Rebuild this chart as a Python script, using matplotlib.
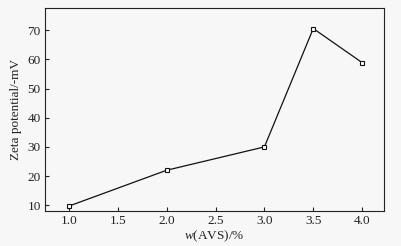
import matplotlib
matplotlib.use("Agg")
import matplotlib.pyplot as plt

x_vals = [1.0, 2.0, 3.0, 3.5, 4.0]
zeta = [9.7, 22.0, 30.0, 70.6, 58.9]
x_ticks = [1.0, 1.5, 2.0, 2.5, 3.0, 3.5, 4.0]
y_ticks = [10, 20, 30, 40, 50, 60, 70]

plt.rcParams['font.family'] = ['Liberation Serif', 'DejaVu Serif']
plt.rcParams['mathtext.fontset'] = 'custom'
plt.rcParams['mathtext.rm'] = 'Liberation Serif'
plt.rcParams['mathtext.it'] = 'Liberation Serif:italic'

fig = plt.figure(figsize=(4.01, 2.46), dpi=100, facecolor='#f7f7f7')
ax = fig.add_axes([0.112, 0.142, 0.846, 0.825])
ax.set_facecolor('#f7f7f7')
ax.plot(x_vals, zeta, color='#111111', lw=0.9, marker='s', ms=3.5,
        mfc='white', mec='#111111', mew=0.8)
ax.set_xlim(0.755, 4.225)
ax.set_ylim(8.0, 77.6)
ax.set_xticks(x_ticks)
ax.set_xticklabels([f"{v:.1f}" for v in x_ticks])
ax.set_yticks(y_ticks)
ax.tick_params(direction='in', length=3, width=0.8, labelsize=9.5, colors='#222222', pad=3)
for s in ax.spines.values():
    s.set_linewidth(0.8)
    s.set_color('#222222')
ax.set_xlabel(r'$w$(AVS)/%', fontsize=9.5, labelpad=1, color='#222222')
ax.set_ylabel('Zeta potential/-mV', fontsize=9.5, labelpad=4, color='#222222')
fig.savefig('out.png', dpi=100, facecolor=fig.get_facecolor())
